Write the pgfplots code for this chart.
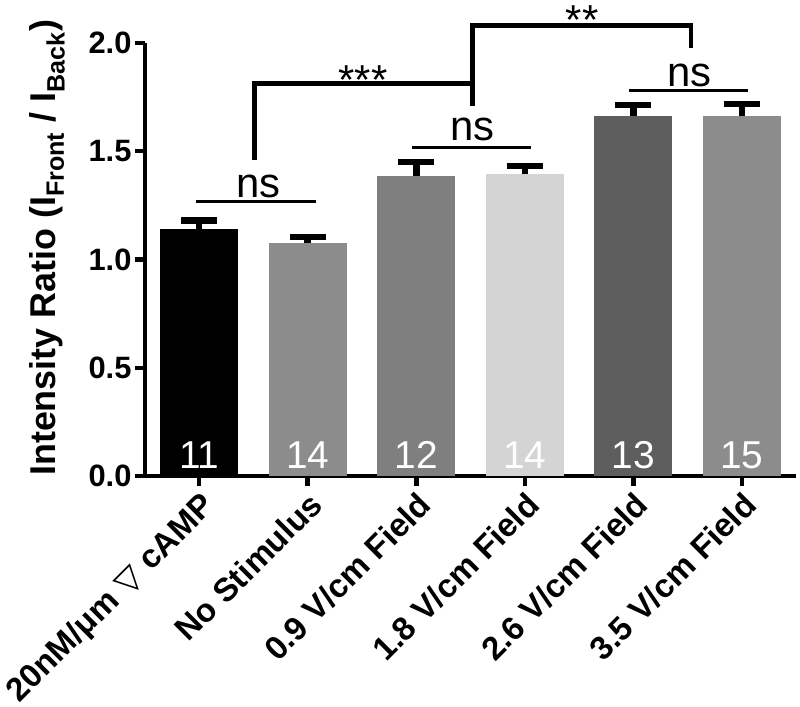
\documentclass[border=0pt]{standalone}
\usepackage{pgfplots}
\pgfplotsset{compat=1.18}
\usepackage{fontspec}
\setmainfont{Liberation Sans}
\newfontfamily\dejavu{DejaVu Sans}
\definecolor{cA}{HTML}{000000}
\definecolor{cB}{HTML}{8C8C8C}
\definecolor{cC}{HTML}{7F7F7F}
\definecolor{cD}{HTML}{D4D4D4}
\definecolor{cE}{HTML}{5E5E5E}
\definecolor{cF}{HTML}{8C8C8C}
\begin{document}
\begin{tikzpicture}
\path[use as bounding box] (-145bp,-231bp) rectangle (655bp,476bp);
\begin{axis}[
  at={(0,0)}, anchor=south west,
  scale only axis, width=651bp, height=433bp,
  xmin=-0.5, xmax=5.5, ymin=0, ymax=2,
  axis x line*=bottom, axis y line*=left,
  axis line style={line width=4.5bp, black},
  xtick={0,1,2,3,4,5},
  xticklabels={{20nM/μm {\dejavu ▽} cAMP},{No Stimulus},{0.9 V/cm Field},{1.8 V/cm Field},{2.6 V/cm Field},{3.5 V/cm Field}},
  x tick label style={rotate=45, anchor=north east, font=\fontsize{33}{35}\selectfont\bfseries, inner sep=3bp},
  ytick={0,0.5,1,1.5,2},
  yticklabel style={/pgf/number format/fixed, /pgf/number format/fixed zerofill, /pgf/number format/precision=1, font=\fontsize{31}{33}\selectfont\bfseries},
  /pgf/number format/assume math mode=true,
  tick style={line width=4.5bp, black},
  major tick length=10bp, tick align=outside,
  ylabel={Intensity Ratio (I\textsubscript{Front} / I\textsubscript{Back})},
  every axis y label/.style={at={(axis description cs:0,0.527)}, rotate=90, anchor=center, yshift=98bp, font=\fontsize{36}{38}\selectfont\bfseries},
  clip=false,
  ybar, bar width=0.72,
  error bars/y dir=plus, error bars/y explicit,
  error bars/error bar style={line width=6.5bp, black},
  error bars/error mark options={rotate=90, line width=6.5bp, mark size=18bp, black},
]
\addplot[fill=cA, draw=none, bar shift=0pt] coordinates {(0,1.141) +- (0,0.038)};
\addplot[fill=cB, draw=none, bar shift=0pt] coordinates {(1,1.074) +- (0,0.030)};
\addplot[fill=cC, draw=none, bar shift=0pt] coordinates {(2,1.385) +- (0,0.066)};
\addplot[fill=cD, draw=none, bar shift=0pt] coordinates {(3,1.393) +- (0,0.040)};
\addplot[fill=cE, draw=none, bar shift=0pt] coordinates {(4,1.662) +- (0,0.051)};
\addplot[fill=cF, draw=none, bar shift=0pt] coordinates {(5,1.662) +- (0,0.056)};
% n labels
\foreach \x/\n in {0/11,1/14,2/12,3/14,4/13,5/15}{
  \edef\tmp{\noexpand\node[text=white, anchor=base, inner sep=0pt, font=\noexpand\fontsize{39}{40}\noexpand\selectfont] at (axis cs:\x,0.035) {\n};}
  \tmp
}
% ns lines
\draw[line width=3bp] (axis cs:-0.03,1.269) -- (axis cs:1.08,1.269);
\draw[line width=3bp] (axis cs:1.96,1.519) -- (axis cs:3.06,1.519);
\draw[line width=3bp] (axis cs:3.96,1.781) -- (axis cs:5.06,1.781);
\node[anchor=base, inner sep=0pt, font=\fontsize{42}{44}\selectfont] at (axis cs:0.545,1.287) {ns};
\node[anchor=base, inner sep=0pt, font=\fontsize{42}{44}\selectfont] at (axis cs:2.52,1.551) {ns};
\node[anchor=base, inner sep=0pt, font=\fontsize{42}{44}\selectfont] at (axis cs:4.52,1.801) {ns};
% brackets
\draw[line width=4.5bp] (axis cs:0.51,1.459) -- (axis cs:0.51,1.814) -- (axis cs:2.52,1.814) -- (axis cs:2.52,1.708);
\draw[line width=4.5bp] (axis cs:2.52,1.814) -- (axis cs:2.52,2.08) -- (axis cs:4.53,2.08) -- (axis cs:4.53,1.975);
\node[anchor=base, inner sep=0pt, font=\fontsize{42}{44}\selectfont] at (axis cs:1.51,1.76) {***};
\node[anchor=base, inner sep=0pt, font=\fontsize{42}{44}\selectfont] at (axis cs:3.53,2.037) {**};
\end{axis}
\end{tikzpicture}
\end{document}
